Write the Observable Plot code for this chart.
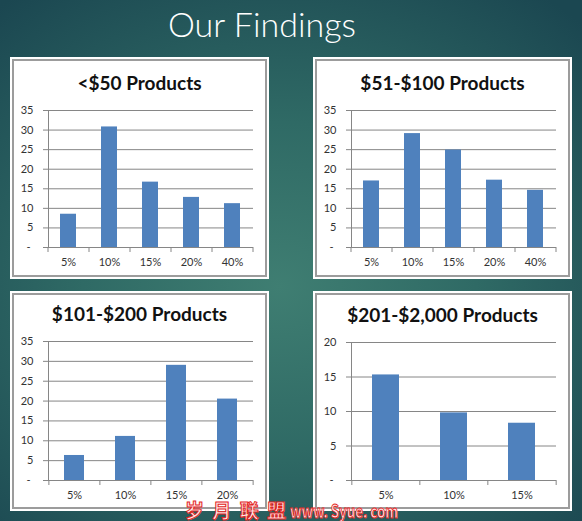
<!DOCTYPE html>
<html><head><meta charset="utf-8">
<script src="https://cdn.jsdelivr.net/npm/d3@7"></script>
<script src="https://cdn.jsdelivr.net/npm/@observablehq/plot@0.6"></script>
<style>
html,body{margin:0;padding:0;background:#1c4a52;}
#stage{position:relative;width:582px;height:521px;overflow:hidden;
 background: radial-gradient(ellipse 75% 70% at 48% 55%, #3f7e72 0%, #2f6a65 45%, #1b4751 100%);
 font-family: Lato, "Open Sans", sans-serif;}
.panel{position:absolute;background:#fff;}
.panel::after{content:"";position:absolute;left:2px;top:2px;right:2px;bottom:2px;border:2px solid #9c9c9c;}
.ptitle{position:absolute;font:bold 19px Lato, sans-serif;color:#111;text-align:center;line-height:19px;white-space:nowrap;}
.chart{position:absolute;}
#main{position:absolute;left:0;top:7px;width:524px;text-align:center;color:#fff;font:300 34px Lato, sans-serif;line-height:34px;}
#wm{position:absolute;left:185px;top:499px;white-space:pre;font:bold 19px "Noto Sans CJK SC", sans-serif;line-height:22px;color:#ffeaea;-webkit-text-stroke:1px #e3261f;}
#wm .cjk{letter-spacing:2px;}
#wm .lat{position:absolute;left:105px;top:0;display:inline-block;transform:scaleX(0.74);transform-origin:left center;font-size:18px;}
</style></head>
<body><div id="stage"></div>
<script>
const mainTitle = "Our Findings";
const titles = ["<$50 Products", "$51-$100 Products", "$101-$200 Products", "$201-$2,000 Products"];
const cats1 = ["5%", "10%", "15%", "20%", "40%"];
const vals1 = [8.5, 30.8, 16.7, 12.8, 11.2];
const cats2 = ["5%", "10%", "15%", "20%", "40%"];
const vals2 = [17.0, 29.1, 24.9, 17.2, 14.6];
const cats3 = ["5%", "10%", "15%", "20%"];
const vals3 = [6.3, 11.1, 29.0, 20.5];
const cats4 = ["5%", "10%", "15%"];
const vals4 = [15.3, 9.8, 8.3];
const yTicks35 = [0, 5, 10, 15, 20, 25, 30, 35];
const yTicks20 = [0, 5, 10, 15, 20];
const watermarkCJK = "岁 月 联 盟";
const watermarkLatin = "www. Syue. com";

const stage = document.getElementById("stage");
const t = document.createElement("div"); t.id = "main"; t.textContent = mainTitle; stage.appendChild(t);

const panels = [
  {left: 10, top: 57, w: 259, h: 222, titleTop: 73, chartTop: 100, mt: 10, ph: 137, cats: cats1, vals: vals1, ticks: yTicks35},
  {left: 313, top: 57, w: 259, h: 222, titleTop: 73, chartTop: 100, mt: 10, ph: 137, cats: cats2, vals: vals2, ticks: yTicks35},
  {left: 10, top: 291, w: 259, h: 220, titleTop: 304, chartTop: 331, mt: 10, ph: 139, cats: cats3, vals: vals3, ticks: yTicks35},
  {left: 313, top: 291, w: 259, h: 220, titleTop: 305, chartTop: 332, mt: 10, ph: 138, cats: cats4, vals: vals4, ticks: yTicks20}
];

panels.forEach((p, k) => {
  const box = document.createElement("div");
  box.className = "panel";
  Object.assign(box.style, {left: p.left + "px", top: p.top + "px", width: p.w + "px", height: p.h + "px"});
  stage.appendChild(box);
  const tt = document.createElement("div");
  tt.className = "ptitle"; tt.textContent = titles[k];
  Object.assign(tt.style, {left: p.left + "px", top: p.titleTop + "px", width: p.w + "px"});
  stage.appendChild(tt);

  const ml = 38, mr = 16, mb = 25;
  const step = (p.w - ml - mr) / p.cats.length;
  const data = p.cats.map((c, i) => ({cat: c, v: p.vals[i]}));
  const yMax = p.ticks[p.ticks.length - 1];
  const grid = "#868686";
  const svg = Plot.plot({
    width: p.w, height: p.mt + p.ph + mb,
    marginLeft: ml, marginRight: mr, marginTop: p.mt, marginBottom: mb,
    style: {fontFamily: "Lato, sans-serif", fontSize: "11px", color: "#333", background: "transparent", overflow: "visible"},
    x: {domain: p.cats, paddingInner: 0.6, paddingOuter: 0.3, axis: null, label: null},
    y: {domain: [0, yMax], axis: null, label: null},
    marks: [
      Plot.gridY({ticks: p.ticks, stroke: grid, strokeOpacity: 1, insetLeft: -5}),
      Plot.barY(data, {x: "cat", y: "v", fill: "#4f81bd"}),
      Plot.ruleY([0], {stroke: grid}),
      Plot.ruleX(p.cats, {x: d => d, y1: 0, y2: 0, insetBottom: -5, dx: -step / 2, stroke: grid}),
      Plot.ruleX(p.cats.slice(-1), {x: d => d, y1: 0, y2: 0, insetBottom: -5, dx: step / 2, stroke: grid}),
      Plot.frame({anchor: "left", stroke: grid}),
      Plot.axisY({ticks: p.ticks, tickSize: 0, tickPadding: 15, label: null, tickFormat: d => d === 0 ? "-\u00a0" : String(d), fill: "#333"}),
      Plot.axisX({tickSize: 0, tickPadding: 11, label: null, fill: "#333"})
    ]
  });
  svg.classList.add("chart");
  Object.assign(svg.style, {left: p.left + "px", top: p.chartTop + "px"});
  stage.appendChild(svg);
});

const wm = document.createElement("div"); wm.id = "wm";
const cjk = document.createElement("span"); cjk.className = "cjk"; cjk.textContent = watermarkCJK;
wm.appendChild(cjk);
const lat = document.createElement("span"); lat.className = "lat"; lat.textContent = watermarkLatin;
wm.appendChild(lat);
stage.appendChild(wm);
</script>
</body></html>
